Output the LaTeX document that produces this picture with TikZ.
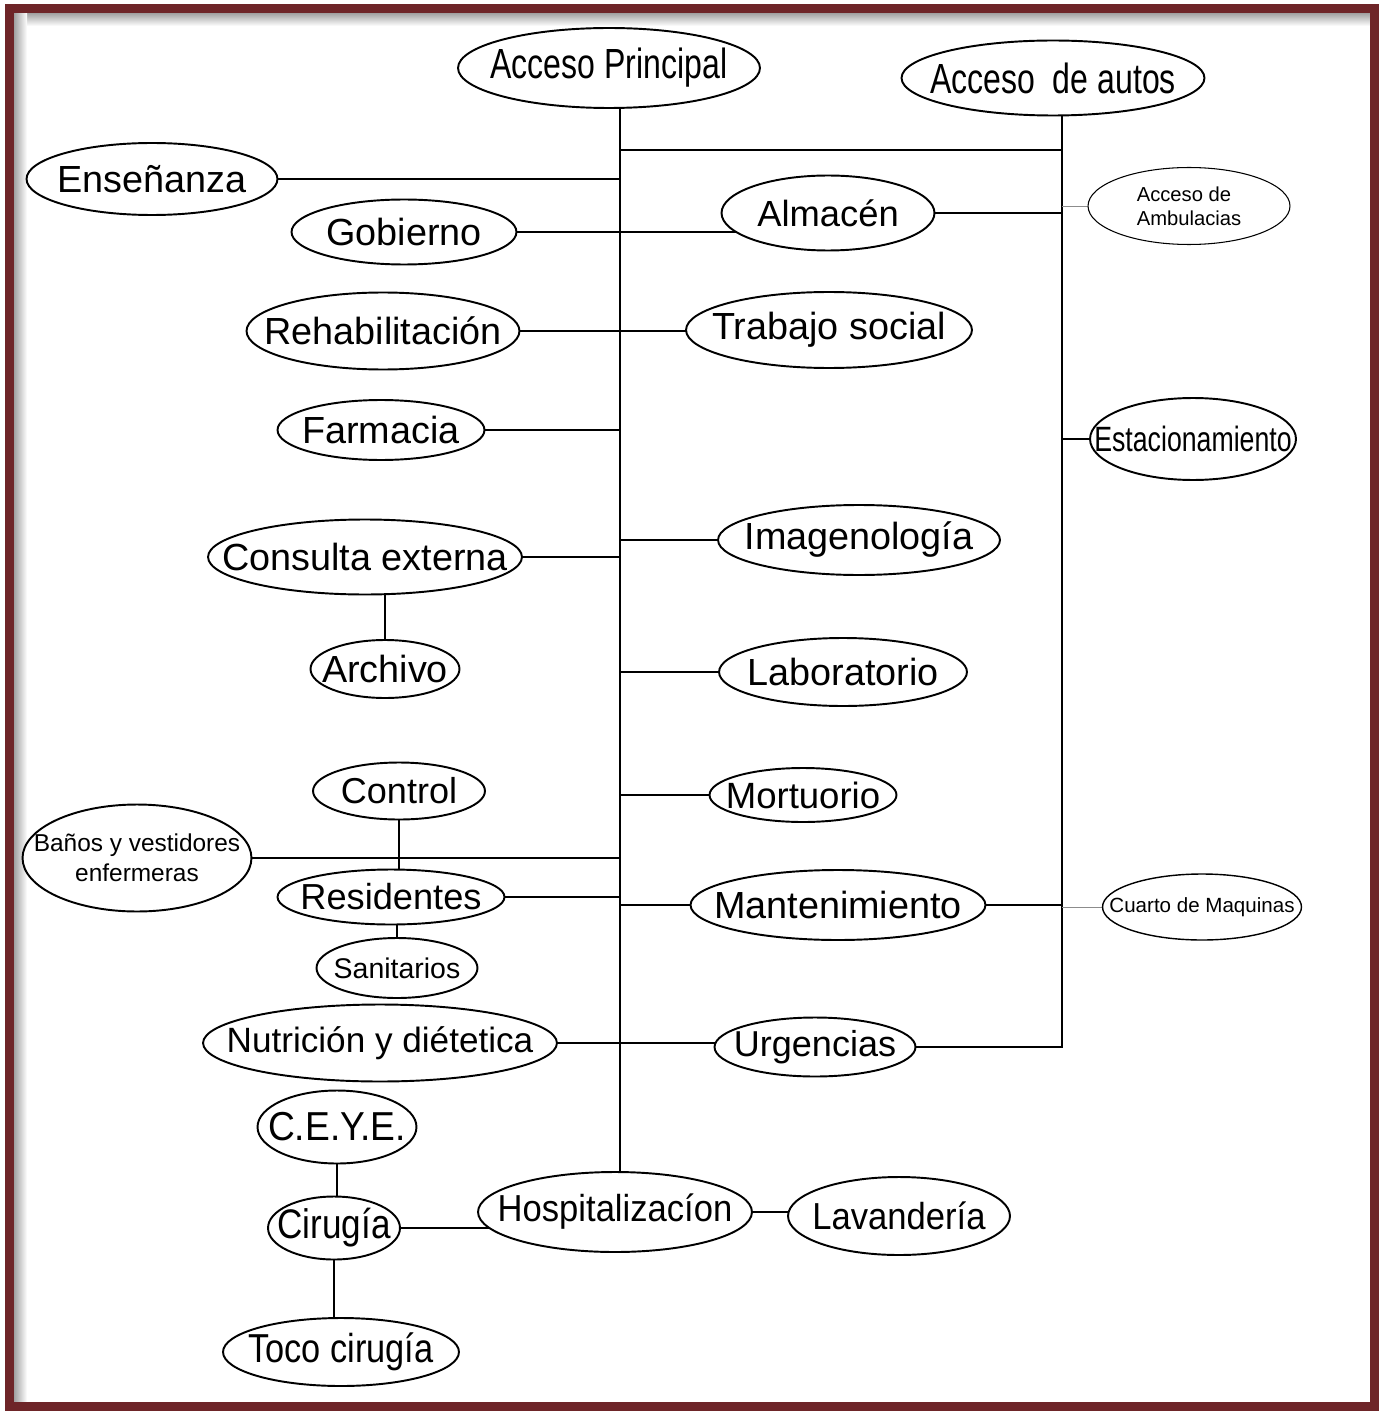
\documentclass[tikz,border=0pt]{standalone}
\usepackage{fontspec}
\setmainfont{Liberation Sans}
\newfontfamily\condA[FakeStretch=0.76]{Liberation Sans}
\newfontfamily\condB[FakeStretch=0.85]{Liberation Sans}
\newfontfamily\condC[FakeStretch=0.92]{Liberation Sans}
\usetikzlibrary{shapes.geometric, backgrounds}
\definecolor{framered}{HTML}{6E2528}

\begin{document}
\begin{tikzpicture}[x=0.02cm, y=-0.02cm,
  room/.style 2 args={
    ellipse, draw=black, fill=white, line width=1.1pt,
    minimum width=#1cm, minimum height=#2cm,
    inner xsep=-25pt, inner ysep=-4pt,
    align=center, font=\fontsize{21.5}{24}\selectfont
  },
  condtxt/.style={font=\condA\fontsize{#1}{26}\selectfont},
  semitxt/.style={font=\condB\fontsize{#1}{26}\selectfont},
  slimtxt/.style={font=\condC\fontsize{#1}{26}\selectfont},
  smalltxt/.style={font=\fontsize{#1}{17}\selectfont},
  link/.style={black, line width=1.1pt},
  faint/.style={black!45, line width=0.5pt},
]
\useasboundingbox (0,0) rectangle (1385,1412);
% frame
\shade[top color=black!40, bottom color=white] (13,12) rectangle (1370,26);
\shade[left color=black!40, right color=white] (13,12) rectangle (27,1403);
\draw[framered, line width=4.6pt] (9.5,8.5) rectangle (1374.5,1406.5);

% top row
\node[room={6.04}{1.6}, condtxt=24]   (ap)    at (609,68)   {Acceso Principal};
\node[room={6.06}{1.5}, condtxt=24]   (autos) at (1053,78)  {Acceso\ \ de autos};
\coordinate (sp)  at (620,108);
\coordinate (rp)  at (1062,115);
\coordinate (bar) at (620,150);

% left column
\node[room={5.02}{1.44}]                (ens)  at (152,179)  {Enseñanza};
\node[room={4.5}{1.3}]                  (gob)  at (404,232)  {Gobierno};
\node[room={5.46}{1.54}]                (reh)  at (383,331)  {Rehabilitación};
\node[room={4.14}{1.2}]                 (far)  at (381,430)  {Farmacia};
\node[room={6.28}{1.5}]                 (con)  at (365,557)  {Consulta externa};
\node[room={2.98}{1.16}]                (arc)  at (385,669)  {Archivo};
\node[room={3.44}{1.14}, smalltxt=20.5] (ctl)  at (399,791)  {Control};
\node[room={4.58}{2.14}, smalltxt=13.9] (ban)  at (137,858)  {Baños y vestidores\\enfermeras};
\node[room={4.54}{1.1}, smalltxt=20.6]  (res)  at (391,897)  {Residentes};
\node[room={3.22}{1.2}, smalltxt=16.2]  (san)  at (397,968)  {Sanitarios};
\node[room={7.08}{1.54}, smalltxt=20]   (nut)  at (380,1043) {Nutrición y diétetica};
\node[room={3.18}{1.46}, slimtxt=23]    (ceye) at (337,1127) {C.E.Y.E.};
\node[room={2.64}{1.26}, semitxt=23.5]  (cir)  at (334,1228) {Cirugía};
\node[room={4.72}{1.36}, semitxt=23]    (toco) at (341,1352) {Toco cirugía};

% right column
\node[room={4.26}{1.5}, smalltxt=20.7]  (alm)  at (828,213)  {Almacén};
\node[room={5.72}{1.52}]                (tra)  at (829,330)  {Trabajo social};
\node[room={5.64}{1.4}]                 (ima)  at (859,540)  {Imagenología};
\node[room={4.96}{1.36}]                (lab)  at (843,672)  {Laboratorio};
\node[room={3.74}{1.08}, smalltxt=20.8] (mor)  at (803,795)  {Mortuorio};
\node[room={5.9}{1.4}]                  (man)  at (838,905)  {Mantenimiento};
\node[room={4.02}{1.18}, smalltxt=20.5] (urg)  at (815,1047) {Urgencias};
\node[room={5.48}{1.6}, slimtxt=21.4]   (hosp) at (615,1212) {Hospitalizacíon};
\node[room={4.44}{1.56}, slimtxt=21.4]  (lav)  at (899,1216) {Lavandería};

% far right
\node[room={4.04}{1.54}, font=\fontsize{11.5}{13.6}\selectfont,
      line width=0.6pt, align=left]
  (amb) at (1189,206) {Acceso de\\Ambulacias};
\node[room={4.12}{1.64}, condtxt=20]    (est)  at (1193,439) {Estacionamiento};
\node[room={3.98}{1.32}, smalltxt=11.7, line width=0.8pt]
  (cua) at (1202,907) {Cuarto de Maquinas};

\begin{scope}[on background layer]
  % spines
  \draw[link] (sp |- ap.south) -- (sp |- hosp.north);
  \draw[link] (rp |- autos.south) -- (rp |- urg.east) -- (urg.east);
  \draw[link] (bar) -- (bar -| rp);
  % to the main spine
  \foreach \n in {ens, far, con, ban, res}
    \draw[link] (\n.east) -- (\n.east -| sp);
  \foreach \n in {ima, lab, mor, man}
    \draw[link] (\n.west) -- (\n.west -| sp);
  % across the spine
  \draw[link] (gob.east) -- (alm.center |- gob.east);
  \draw[link] (reh.east) -- (tra.center |- reh.east);
  \draw[link] (nut.east) -- (urg.center |- nut.east);
  % to the right spine
  \draw[link] (alm.east) -- (alm.east -| rp);
  \draw[link] (est.west) -- (est.west -| rp);
  \draw[link] (man.east) -- (man.east -| rp);
  \draw[faint] (rp |- amb.west) -- (amb.west);
  \draw[faint] (rp |- cua.west) -- (cua.west);
  % small branches
  \draw[link] (arc.north) -- (arc.north |- con.south);
  \draw[link] (ctl.south) -- (ctl.south |- res.north);
  \draw[link] (san.north) -- (san.north |- res.south);
  \draw[link] (ceye.south) -- (ceye.south |- cir.north);
  \draw[link] (cir.south) -- (cir.south |- toco.north);
  \draw[link] (cir.east) -- (hosp.center |- cir.east);
  \draw[link] (hosp.east) -- (lav.center |- hosp.east);
\end{scope}
\end{tikzpicture}
\end{document}
